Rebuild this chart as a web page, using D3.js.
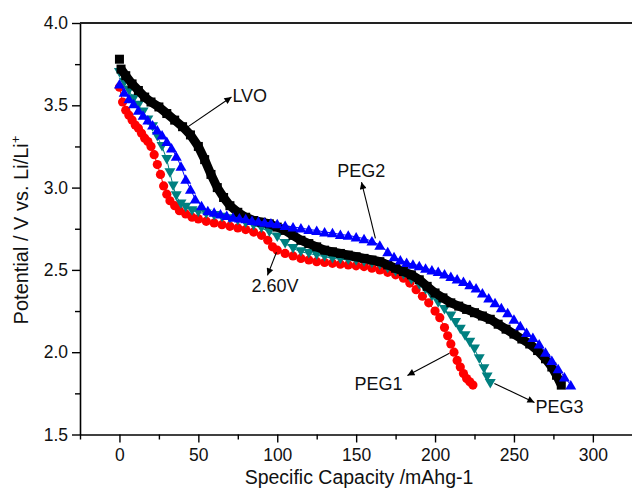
<!DOCTYPE html>
<html><head><meta charset="utf-8">
<script src="https://cdn.jsdelivr.net/npm/d3@7/dist/d3.min.js"></script>
<style>
html,body{margin:0;padding:0;background:#fff;}
svg{display:block;font-family:"Liberation Sans",Arial,sans-serif;}
</style></head>
<body><svg id="c" width="632" height="494"></svg>
<script>
// ---------- data (capacity mAh/g , potential V) ----------
const lvoCap = [0,1,4,8,12,16,20,25,30,35,40,45,50,54,58,62,66,70,75,80,85,90,95,100,105,110,115,120,125,130,135,140,145,150,155,160,165,170,175,180,185,190,195,200,205,210,215,220,225,230,235,240,245,250,255,260,265,270,274,277,280];
const lvoV   = [3.78,3.72,3.68,3.63,3.59,3.55,3.52,3.49,3.45,3.41,3.37,3.32,3.25,3.17,3.08,3.00,2.94,2.89,2.85,2.82,2.80,2.79,2.78,2.76,2.74,2.71,2.68,2.66,2.64,2.62,2.61,2.60,2.59,2.58,2.57,2.56,2.55,2.53,2.51,2.49,2.47,2.44,2.40,2.36,2.33,2.30,2.28,2.26,2.24,2.22,2.20,2.17,2.14,2.11,2.08,2.05,2.01,1.96,1.91,1.86,1.80];

const peg1Cap = [0,2,4,6,8,10,12,14,16,18,20,22,24,26,28,30,32,35,38,42,46,50,55,60,65,70,75,80,85,90,94,97,100,105,110,115,120,125,130,135,140,145,150,155,160,165,170,175,180,184,188,192,196,200,203,206,208,210,212,214,216,218,220,222,224];
const peg1V   = [3.61,3.52,3.47,3.44,3.41,3.38,3.36,3.33,3.30,3.28,3.25,3.20,3.14,3.08,3.01,2.96,2.92,2.89,2.86,2.84,2.82,2.81,2.795,2.785,2.775,2.765,2.755,2.745,2.73,2.71,2.68,2.64,2.62,2.60,2.585,2.57,2.56,2.55,2.545,2.54,2.535,2.53,2.525,2.52,2.51,2.50,2.485,2.47,2.45,2.42,2.38,2.34,2.30,2.25,2.21,2.15,2.10,2.05,2.00,1.95,1.91,1.87,1.84,1.82,1.80];

const peg2Cap = [0,3,6,9,12,15,18,21,24,27,30,33,36,39,42,45,48,52,56,60,64,68,72,76,80,84,88,92,96,100,105,110,115,120,125,130,135,140,145,150,155,160,165,170,174,178,182,186,190,194,198,202,206,210,214,218,222,226,230,234,238,242,246,250,254,258,262,266,270,274,278,282,286];
const peg2V   = [3.63,3.58,3.54,3.51,3.47,3.44,3.41,3.38,3.35,3.32,3.28,3.24,3.19,3.13,3.05,2.99,2.93,2.89,2.86,2.85,2.84,2.83,2.82,2.815,2.81,2.80,2.795,2.79,2.785,2.78,2.77,2.76,2.755,2.745,2.74,2.73,2.725,2.715,2.71,2.70,2.69,2.675,2.65,2.61,2.58,2.56,2.545,2.535,2.525,2.51,2.50,2.49,2.475,2.46,2.445,2.43,2.41,2.39,2.36,2.33,2.30,2.27,2.24,2.20,2.16,2.12,2.09,2.05,2.00,1.95,1.90,1.85,1.80];

const peg3Cap = [0,3,6,9,12,15,18,21,24,27,30,32,34,36,39,42,46,50,55,60,65,70,75,80,85,90,95,100,105,110,115,120,125,130,135,140,145,150,155,160,165,170,175,180,185,190,194,198,202,206,210,213,216,219,222,225,228,231,233,235];
const peg3V   = [3.70,3.64,3.59,3.54,3.50,3.46,3.41,3.37,3.31,3.25,3.17,3.09,3.01,2.95,2.90,2.88,2.86,2.85,2.84,2.83,2.82,2.81,2.80,2.785,2.77,2.755,2.73,2.70,2.66,2.63,2.61,2.60,2.59,2.58,2.57,2.565,2.56,2.555,2.55,2.54,2.53,2.51,2.49,2.47,2.44,2.41,2.38,2.34,2.30,2.26,2.22,2.18,2.14,2.10,2.06,2.02,1.96,1.90,1.85,1.81];

const xTicks = [0,50,100,150,200,250,300];
const xMinor = [-25,25,75,125,175,225,275,325];
const yTicks = [1.5,2.0,2.5,3.0,3.5,4.0];
const yMinor = [1.75,2.25,2.75,3.25,3.75];

// annotations in data units: label, text anchor point, arrow from -> to
const annotations = [
  {label:"LVO",   tx:71.6,  ty:3.52,  x1:41.2,  y1:3.355, x2:71.0,  y2:3.55},
  {label:"PEG2",  tx:138.1, ty:3.063, x1:162.2, y1:2.692, x2:153.4, y2:3.033},
  {label:"2.60V", tx:83.7,  ty:2.364, x1:99.5,  y1:2.607, x2:93.8,  y2:2.467},
  {label:"PEG1",  tx:148.9, ty:1.768, x1:209.1, y1:1.993, x2:182.5, y2:1.859},
  {label:"PEG3",  tx:263.6, ty:1.628, x1:237.6, y1:1.81,  x2:263.0, y2:1.695}
];

// ---------- drawing ----------
const svg = d3.select("#c");
const x = d3.scaleLinear().domain([-25,325]).range([80,632.3]);
const y = d3.scaleLinear().domain([1.5,4.0]).range([434.5,23]);

const zip = (a,b)=>a.map((v,i)=>[v,b[i]]);
const line = d3.line().x(d=>x(d[0])).y(d=>y(d[1]));

const red = "#ff0000", teal = "#008080", blue = "#0000ff";

// PEG1 red circles
const g1 = svg.append("g");
const d1 = zip(peg1Cap,peg1V);
g1.append("path").attr("d",line(d1)).attr("fill","none").attr("stroke",red).attr("stroke-width",1);
g1.selectAll("circle").data(d1).join("circle")
  .attr("cx",d=>x(d[0])).attr("cy",d=>y(d[1])).attr("r",4.6).attr("fill",red);

// PEG3 teal down-triangles
const g3 = svg.append("g");
const d3d = zip(peg3Cap,peg3V);
g3.append("path").attr("d",line(d3d)).attr("fill","none").attr("stroke",teal).attr("stroke-width",1);
const triDown = (cx,cy)=>`M${cx-5.5},${cy-4.5}L${cx+5.5},${cy-4.5}L${cx},${cy+5}Z`;
g3.selectAll("path.m").data(d3d).join("path").attr("class","m")
  .attr("d",d=>triDown(x(d[0]),y(d[1]))).attr("fill",teal);

// LVO black squares (dense band)
const g0 = svg.append("g");
const d0 = zip(lvoCap,lvoV);
g0.append("path").attr("d",line(d0.slice(1))).attr("fill","none").attr("stroke","#000").attr("stroke-width",9);
g0.selectAll("rect").data(d0).join("rect")
  .attr("x",d=>x(d[0])-4.5).attr("y",d=>y(d[1])-4.5).attr("width",9).attr("height",9).attr("fill","#000");

// PEG2 blue up-triangles
const g2 = svg.append("g");
const d2 = zip(peg2Cap,peg2V);
g2.append("path").attr("d",line(d2)).attr("fill","none").attr("stroke",blue).attr("stroke-width",1);
const triUp = (cx,cy)=>`M${cx-5.5},${cy+4.5}L${cx+5.5},${cy+4.5}L${cx},${cy-5}Z`;
g2.selectAll("path.m").data(d2).join("path").attr("class","m")
  .attr("d",d=>triUp(x(d[0]),y(d[1]))).attr("fill",blue);

// axes
svg.append("g").attr("transform",`translate(0,${y(1.5)})`)
  .call(d3.axisBottom(x).tickValues(xTicks).tickSize(8).tickSizeOuter(0).tickPadding(6).tickFormat(d3.format("d")));
svg.append("g").attr("transform",`translate(0,${y(1.5)})`)
  .call(d3.axisBottom(x).tickValues(xMinor).tickSize(5).tickSizeOuter(0).tickFormat(""))
  .select(".domain").remove();
svg.append("g").attr("transform",`translate(${x(-25)},0)`)
  .call(d3.axisLeft(y).tickValues(yTicks).tickSize(8).tickSizeOuter(0).tickPadding(4).tickFormat(d3.format(".1f")));
svg.append("g").attr("transform",`translate(${x(-25)},0)`)
  .call(d3.axisLeft(y).tickValues(yMinor).tickSize(5).tickSizeOuter(0).tickFormat(""))
  .select(".domain").remove();
svg.selectAll(".domain").attr("stroke","#000").attr("stroke-width",1.6);
svg.selectAll(".tick line").attr("stroke","#000").attr("stroke-width",1.4);
svg.selectAll(".tick text").attr("font-size",17.5).attr("fill","#111")
  .attr("font-family","'Liberation Sans',Arial,sans-serif");
// top frame line
svg.append("line").attr("x1",x(-25)).attr("x2",632).attr("y1",y(4.0)).attr("y2",y(4.0))
  .attr("stroke","#222").attr("stroke-width",2);

// axis titles
svg.append("text").attr("x",359).attr("y",484).attr("text-anchor","middle")
  .attr("font-size",19.5).attr("fill","#111").text("Specific Capacity /mAhg-1");
const yt = svg.append("text").attr("transform","translate(28,230) rotate(-90)")
  .attr("text-anchor","middle").attr("font-size",20).attr("fill","#111");
yt.append("tspan").text("Potential / V vs. Li/Li");
yt.append("tspan").attr("dy",-8).attr("font-size",13).text("+");

// annotations
const defs = svg.append("defs");
defs.append("marker").attr("id","ah").attr("viewBox","0 0 10 10").attr("refX",10).attr("refY",5)
  .attr("markerWidth",9).attr("markerHeight",7).attr("markerUnits","userSpaceOnUse").attr("orient","auto")
  .append("path").attr("d","M0,0L10,5L0,10Z").attr("fill","#000");
const ag = svg.append("g");
ag.selectAll("line").data(annotations).join("line")
  .attr("x1",d=>x(d.x1)).attr("y1",d=>y(d.y1)).attr("x2",d=>x(d.x2)).attr("y2",d=>y(d.y2))
  .attr("stroke","#000").attr("stroke-width",1.1).attr("marker-end","url(#ah)");
ag.selectAll("text").data(annotations).join("text")
  .attr("x",d=>x(d.tx)).attr("y",d=>y(d.ty)).attr("font-size",18).attr("fill","#111").text(d=>d.label);
</script></body></html>
